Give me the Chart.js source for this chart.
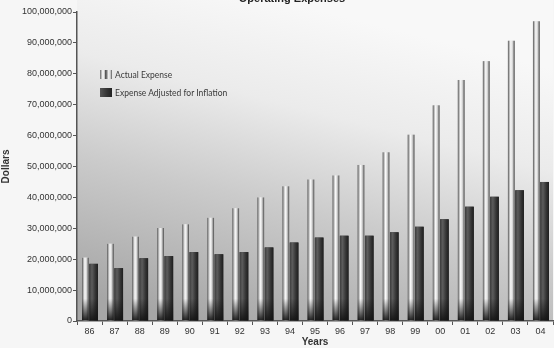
<!DOCTYPE html>
<html lang="en">
<head>
  <title>Operating Expenses</title>
  <style>
    body {
      margin: 0;
      background-color: #f6f6f6;
      font-family: Arial, "Liberation Sans", sans-serif;
    }
    #chart-container {
      position: relative;
      width: 554px;
      height: 348px;
    }
    canvas {
      display: block;
    }
    /* legenda dentro l'area del grafico */
    .legend {
      position: absolute;
      left: 100px;
      top: 69px;
      font-family: Lato, "Open Sans", sans-serif;
      font-size: 8.5px;
      color: #3a3a3a;
    }
    .legend div {
      height: 18px;
      line-height: 12px;
    }
    .legend span.box {
      display: inline-block;
      width: 12px;
      height: 9px;
      vertical-align: -1px;
      margin-right: 3px;
    }
    .box.light {
      background: linear-gradient(to right, #666 0, #eee 20%, #eee 35%, #555 45%, #777 55%, #eee 70%, #ddd 85%, #555 100%);
    }
    .box.dark {
      background: linear-gradient(to right, #555, #333 60%, #222);
    }
  </style>
  <script src="https://cdn.jsdelivr.net/npm/chart.js"></script>
</head>
<body>
<div id="chart-container">
  <canvas id="barChart" width="554" height="348"></canvas>
  <div class="legend">
    <div><span class="box light"></span>Actual Expense</div>
    <div><span class="box dark"></span>Expense Adjusted for Inflation</div>
  </div>
</div>
<script>
    // Dati
    var years = ['86', '87', '88', '89', '90', '91', '92', '93', '94', '95',
                 '96', '97', '98', '99', '00', '01', '02', '03', '04'];
    var actualExpense = [20500000, 25000000, 27300000, 30100000, 31300000, 33400000, 36500000,
                         40000000, 43600000, 45800000, 47100000, 50500000, 54600000, 60300000,
                         69800000, 78000000, 84100000, 90700000, 97000000];
    var adjustedExpense = [18500000, 17100000, 20300000, 21000000, 22300000, 21600000, 22300000,
                           23800000, 25400000, 27000000, 27600000, 27600000, 28700000, 30500000,
                           32900000, 37000000, 40200000, 42300000, 45000000];
    var yTicks = [0, 10000000, 20000000, 30000000, 40000000, 50000000,
                  60000000, 70000000, 80000000, 90000000, 100000000];

    // Sfondo sfumato dell'area del grafico
    var backgroundPlugin = {
      id: 'plotBackground',
      beforeDraw: function(chart) {
        var ctx = chart.ctx;
        var a = chart.chartArea;
        var g = ctx.createLinearGradient(a.left + 200, 0, a.left + 120, a.bottom);
        g.addColorStop(0, '#f8f8f8');
        g.addColorStop(0.3, '#ebebeb');
        g.addColorStop(0.6, '#cbcbcb');
        g.addColorStop(1, '#a6a6a6');
        ctx.save();
        ctx.fillStyle = g;
        ctx.fillRect(a.left, 0, a.right - a.left, a.bottom);
        ctx.restore();
      }
    };

    // Barre cilindriche: sfumatura orizzontale e ombra in basso
    var cylinderPlugin = {
      id: 'cylinder',
      afterDatasetsDraw: function(chart) {
        var ctx = chart.ctx;
        chart.data.datasets.forEach(function(ds, di) {
          var meta = chart.getDatasetMeta(di);
          meta.data.forEach(function(bar) {
            var x0 = bar.x - bar.width / 2;
            var w = bar.width;
            var top = bar.y;
            var g = ctx.createLinearGradient(x0, 0, x0 + w, 0);
            if (di === 0) {
              g.addColorStop(0, '#505050');
              g.addColorStop(0.18, '#a8a8a8');
              g.addColorStop(0.42, '#fbfbfb');
              g.addColorStop(0.68, '#d4d4d4');
              g.addColorStop(0.85, '#8a8a8a');
              g.addColorStop(1, '#444');
            } else {
              g.addColorStop(0, '#3c3c3c');
              g.addColorStop(0.3, '#5c5c5c');
              g.addColorStop(0.7, '#343434');
              g.addColorStop(1, '#1e1e1e');
            }
            ctx.save();
            ctx.fillStyle = g;
            ctx.fillRect(x0, top, w, bar.base - top);
            var h = Math.min(22, bar.base - top);
            var s = ctx.createLinearGradient(0, bar.base - h, 0, bar.base);
            s.addColorStop(0, 'rgba(20,20,20,0)');
            s.addColorStop(1, 'rgba(20,20,20,0.95)');
            ctx.fillStyle = s;
            ctx.fillRect(x0, bar.base - h, w, h);
            ctx.restore();
          });
        });
      }
    };

    // Titolo parzialmente tagliato in alto
    var titlePlugin = {
      id: 'cutTitle',
      afterDraw: function(chart) {
        var ctx = chart.ctx;
        ctx.save();
        ctx.font = 'bold 11px Arial, "Liberation Sans", sans-serif';
        ctx.fillStyle = '#222';
        ctx.textAlign = 'center';
        ctx.textBaseline = 'alphabetic';
        ctx.fillText('Operating Expenses', 292, 2);
        ctx.restore();
      }
    };

    var ctx = document.getElementById('barChart').getContext('2d');
    var barChart = new Chart(ctx, {
      type: 'bar',
      data: {
        labels: years,
        datasets: [{
          label: 'Actual Expense',
          data: actualExpense,
          backgroundColor: '#ddd',
          borderWidth: 0,
          barPercentage: 0.82,
          categoryPercentage: 0.66
        }, {
          label: 'Expense Adjusted for Inflation',
          data: adjustedExpense,
          backgroundColor: '#333',
          borderWidth: 0,
          barPercentage: 1.05,
          categoryPercentage: 0.66
        }]
      },
      options: {
        responsive: false,
        animation: false,
        layout: {
          padding: { top: 12, right: 1 }
        },
        plugins: {
          legend: { display: false },
          tooltip: { enabled: false }
        },
        scales: {
          x: {
            grid: {
              offset: true,
              drawOnChartArea: false,
              drawTicks: true,
              tickLength: 4,
              color: '#555'
            },
            border: { color: '#555', width: 1.5 },
            ticks: {
              color: '#333',
              padding: 1,
              font: { size: 9, family: 'Arial' }
            },
            title: {
              display: true,
              text: 'Years',
              color: '#333',
              padding: 0,
              font: { size: 10, weight: 'bold', family: 'Arial' }
            },
            afterFit: function(scale) {
              scale.height = 27;
            }
          },
          y: {
            min: 0,
            max: 100000000,
            afterBuildTicks: function(scale) {
              scale.ticks = yTicks.map(function(v) { return { value: v }; });
            },
            grid: {
              drawOnChartArea: false,
              drawTicks: true,
              tickLength: 4,
              color: '#555'
            },
            border: { color: '#555', width: 1.5 },
            ticks: {
              color: '#333',
              padding: 1,
              font: { size: 9, family: 'Arial' },
              callback: function(value) {
                return value.toLocaleString('en-US');
              }
            },
            title: {
              display: true,
              text: 'Dollars',
              color: '#333',
              padding: 0,
              font: { size: 10, weight: 'bold', family: 'Arial' }
            },
            afterFit: function(scale) {
              scale.width = 77;
            }
          }
        }
      },
      plugins: [backgroundPlugin, cylinderPlugin, titlePlugin]
    });
</script>
</body>
</html>
